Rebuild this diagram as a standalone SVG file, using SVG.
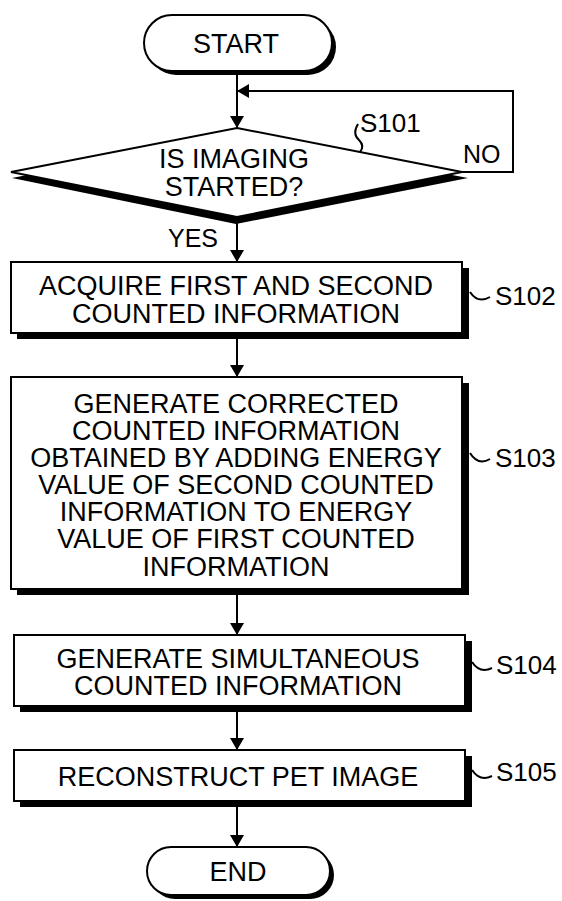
<svg xmlns="http://www.w3.org/2000/svg" width="562" height="901" viewBox="0 0 562 901">
<style>
.sh{fill:#000;stroke:none}
.bx{fill:#fff;stroke:#000;stroke-width:2}
.t{font-family:"Liberation Sans",Arial,sans-serif;font-size:27px;fill:#000;text-anchor:middle}
.lb{font-family:"Liberation Sans",Arial,sans-serif;font-size:26px;fill:#000}
.yn{font-family:"Liberation Sans",Arial,sans-serif;font-size:25px;fill:#000}
.ln{fill:none;stroke:#000;stroke-width:2}
</style>
<defs>
<marker id="ah" viewBox="0 0 12 14" refX="12" refY="7" markerWidth="12" markerHeight="14" markerUnits="userSpaceOnUse" orient="auto">
<path d="M0,0 L12,7 L0,14 Z" fill="#000"/>
</marker>
</defs>
<rect width="562" height="901" fill="#fff"/>
<g id="connectors">
<line class="ln" x1="237" y1="70" x2="237" y2="128" marker-end="url(#ah)"/>
<polyline class="ln" points="462,172 513,172 513,91 237,91" marker-end="url(#ah)"/>
<line class="ln" x1="237" y1="219" x2="237" y2="262" marker-end="url(#ah)"/>
<line class="ln" x1="237" y1="333" x2="237" y2="377" marker-end="url(#ah)"/>
<line class="ln" x1="237" y1="589" x2="237" y2="635" marker-end="url(#ah)"/>
<line class="ln" x1="237" y1="706" x2="237" y2="750" marker-end="url(#ah)"/>
<line class="ln" x1="237" y1="801" x2="237" y2="847" marker-end="url(#ah)"/>
<text class="yn" x="168" y="247">YES</text>
<text class="yn" x="463" y="163">NO</text>
</g>
<g id="start">
<rect class="sh" x="148" y="19" width="188" height="56" rx="28"/>
<rect class="bx" x="144" y="15" width="188" height="56" rx="28"/>
<text class="t" x="236" y="53">START</text>
</g>
<g id="s101">
<polygon class="sh" points="236,134 468,178 236,224 12,178"/>
<polygon class="bx" points="237,128 462,172 237,217 11,172"/>
<text class="t" x="234" y="168">IS IMAGING</text>
<text class="t" x="234" y="196">STARTED?</text>
<path class="ln" d="M358,124 Q352,134 359,140 Q365,146 360,152" stroke-width="1.5"/>
<text class="lb" x="360" y="132">S101</text>
</g>
<g id="s102">
<rect class="sh" x="17" y="268" width="452" height="71"/>
<rect class="bx" x="11" y="262" width="451" height="71"/>
<text class="t" x="236" y="295">ACQUIRE FIRST AND SECOND</text>
<text class="t" x="236" y="323">COUNTED INFORMATION</text>
<path class="ln" d="M470,292 Q478,304 490,297" stroke-width="1.5"/>
<text class="lb" x="495" y="305">S102</text>
</g>
<g id="s103">
<rect class="sh" x="17" y="383" width="452" height="212"/>
<rect class="bx" x="11" y="377" width="451" height="212"/>
<text class="t" x="236" y="413">GENERATE CORRECTED</text>
<text class="t" x="236" y="440">COUNTED INFORMATION</text>
<text class="t" x="236" y="467">OBTAINED BY ADDING ENERGY</text>
<text class="t" x="236" y="494">VALUE OF SECOND COUNTED</text>
<text class="t" x="236" y="521">INFORMATION TO ENERGY</text>
<text class="t" x="236" y="548">VALUE OF FIRST COUNTED</text>
<text class="t" x="236" y="576">INFORMATION</text>
<path class="ln" d="M470,453 Q478,466 490,459" stroke-width="1.5"/>
<text class="lb" x="495" y="467">S103</text>
</g>
<g id="s104">
<rect class="sh" x="20" y="641" width="452" height="71"/>
<rect class="bx" x="14" y="635" width="451" height="71"/>
<text class="t" x="238" y="668">GENERATE SIMULTANEOUS</text>
<text class="t" x="238" y="695">COUNTED INFORMATION</text>
<path class="ln" d="M472,662 Q480,674 492,668" stroke-width="1.5"/>
<text class="lb" x="496" y="674">S104</text>
</g>
<g id="s105">
<rect class="sh" x="20" y="756" width="452" height="51"/>
<rect class="bx" x="14" y="750" width="451" height="51"/>
<text class="t" x="238" y="786">RECONSTRUCT PET IMAGE</text>
<path class="ln" d="M472,770 Q480,782 492,776" stroke-width="1.5"/>
<text class="lb" x="496" y="781">S105</text>
</g>
<g id="end">
<rect class="sh" x="151" y="851" width="183" height="48" rx="24"/>
<rect class="bx" x="147" y="847" width="183" height="48" rx="24"/>
<text class="t" x="238" y="881">END</text>
</g>
</svg>
